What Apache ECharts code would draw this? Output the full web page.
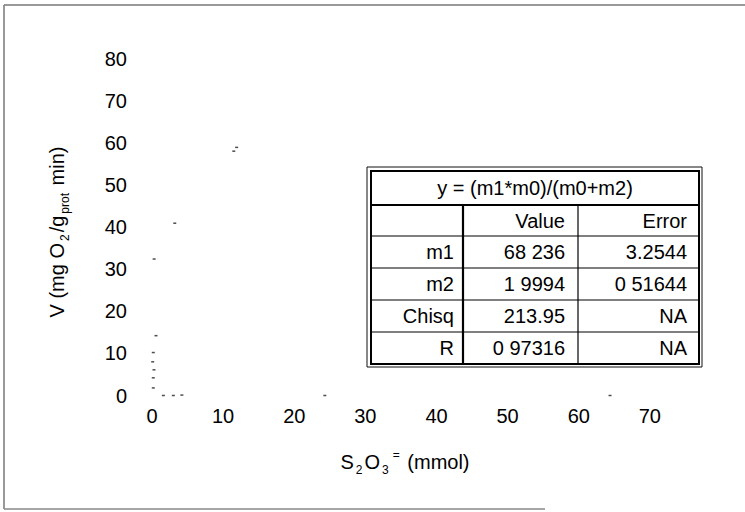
<!DOCTYPE html>
<html><head><meta charset="utf-8">
<script src="https://cdn.jsdelivr.net/npm/echarts@6/dist/echarts.min.js"></script>
<style>html,body{margin:0;padding:0;background:#fff}#c{width:745px;height:512px}</style>
</head><body><div id="c"></div>
<script>
// ---- data ----
const xTicks = [0, 10, 20, 30, 40, 50, 60, 70];
const yTicks = [0, 10, 20, 30, 40, 50, 60, 70, 80];
// faint plotted fragments visible in the scan (x: S2O3 mmol, y: V)
const markX = [0.56, 0.18, 0.10, 0.28, 0.18, 0.18, 1.6, 3.0, 4.2, 0.3, 3.2, 11.5, 11.9, 24.3, 64.4];
const markY = [14.2, 10.2, 8.0, 6.1, 4.2, 1.8, 0.0, 0.0, 0.1, 32.4, 40.9, 58.0, 58.9, 0.0, 0.0];
const tableTitle = 'y = (m1*m0)/(m0+m2)';
const tableHeader = ['', 'Value', 'Error'];
const rowNames = ['m1', 'm2', 'Chisq', 'R'];
const rowValues = ['68 236', '1 9994', '213.95', '0 97316'];
const rowErrors = ['3.2544', '0 51644', 'NA', 'NA'];

// ---- layout / style ----
const FONT = 'Liberation Sans, Arial, sans-serif';
const FS = 20;
const chart = echarts.init(document.getElementById('c'), null, {renderer: 'svg'});

const g = [];
// page frame (left, top, bottom)
g.push({type: 'line', shape: {x1: 4, y1: 5, x2: 4, y2: 509}, style: {stroke: '#777', lineWidth: 1.5}});
g.push({type: 'line', shape: {x1: 4, y1: 5, x2: 745, y2: 5}, style: {stroke: '#777', lineWidth: 1.5}});
g.push({type: 'line', shape: {x1: 4, y1: 509, x2: 545, y2: 509}, style: {stroke: '#888', lineWidth: 1.5}});

// axis titles
const sub = {fontSize: 12, fontFamily: FONT, fill: '#000', lineHeight: 13, padding: [16, 2, 0, 2]};
const sup = {fontSize: 12, fontFamily: FONT, fill: '#000', lineHeight: 13, padding: [0, 2, 14, 2]};
const main = {fontSize: FS, fontFamily: FONT, fill: '#000', lineHeight: 24};
g.push({type: 'text', x: 57, y: 232, rotation: Math.PI / 2,
  style: {text: '{m|V (mg O}{s|2}{m|/g}{s|prot}{m| min)}', align: 'center', verticalAlign: 'middle',
    rich: {m: main, s: sub}}});
g.push({type: 'text', x: 405, y: 462,
  style: {text: '{m|S}{s|2}{m|O}{s|3}{p|=}{m| (mmol)}', align: 'center', verticalAlign: 'middle',
    rich: {m: main, s: sub, p: sup}}});

// table
const TX0 = 367, TX1 = 702, TY0 = 167, TY1 = 367;
const IX0 = 371, IX1 = 699, IY0 = 171, IY1 = 364;
const rowLines = [205, 236, 268, 300, 332];
const colLines = [463, 578];
const colRight = [454, 565, 687];
g.push({type: 'rect', shape: {x: TX0, y: TY0, width: TX1 - TX0, height: TY1 - TY0}, style: {fill: '#fff', stroke: '#111', lineWidth: 1}});
g.push({type: 'rect', shape: {x: IX0, y: IY0, width: IX1 - IX0, height: IY1 - IY0}, style: {fill: 'none', stroke: '#000', lineWidth: 2}});
rowLines.forEach((y, i) => g.push({type: 'line', shape: {x1: IX0, y1: y, x2: IX1, y2: y}, style: {stroke: '#000', lineWidth: i === 0 ? 2 : 1.2}}));
colLines.forEach((x, i) => g.push({type: 'line', shape: {x1: x, y1: rowLines[0], x2: x, y2: IY1}, style: {stroke: '#000', lineWidth: i === 0 ? 2.2 : 1.2}}));
const txt = (t, x, y, align) => ({type: 'text', x: x, y: y, style: {text: t, fontSize: FS, fontFamily: FONT, fill: '#000', align: align, verticalAlign: 'middle'}});
g.push(txt(tableTitle, (IX0 + IX1) / 2, (IY0 + rowLines[0]) / 2, 'center'));
const rowTop = [rowLines[0], rowLines[1], rowLines[2], rowLines[3], rowLines[4]];
const rowBot = [rowLines[1], rowLines[2], rowLines[3], rowLines[4], IY1];
const cy = i => (rowTop[i] + rowBot[i]) / 2;
tableHeader.forEach((t, j) => { if (t) g.push(txt(t, colRight[j], cy(0), 'right')); });
rowNames.forEach((n, i) => {
  g.push(txt(n, colRight[0], cy(i + 1), 'right'));
  g.push(txt(rowValues[i], colRight[1], cy(i + 1), 'right'));
  g.push(txt(rowErrors[i], colRight[2], cy(i + 1), 'right'));
});

chart.setOption({
  animation: false,
  backgroundColor: '#fff',
  grid: {left: 152, right: 24, top: 58.5, bottom: 116.5},
  xAxis: {type: 'value', min: 0, max: 80, interval: 10,
    axisLine: {show: false}, axisTick: {show: false}, splitLine: {show: false},
    axisLabel: {margin: 10, fontSize: FS, fontFamily: FONT, color: '#000',
      formatter: v => xTicks.indexOf(v) >= 0 ? String(v) : ''}},
  yAxis: {type: 'value', min: 0, max: 80, interval: 10,
    axisLine: {show: false}, axisTick: {show: false}, splitLine: {show: false},
    axisLabel: {margin: 25, fontSize: FS, fontFamily: FONT, color: '#000',
      formatter: v => yTicks.indexOf(v) >= 0 ? String(v) : ''}},
  series: [{type: 'scatter', data: markX.map((x, i) => [x, markY[i]]),
    symbol: 'rect', symbolSize: [3, 1.5], itemStyle: {color: '#222'}}],
  graphic: g
});
</script></body></html>
